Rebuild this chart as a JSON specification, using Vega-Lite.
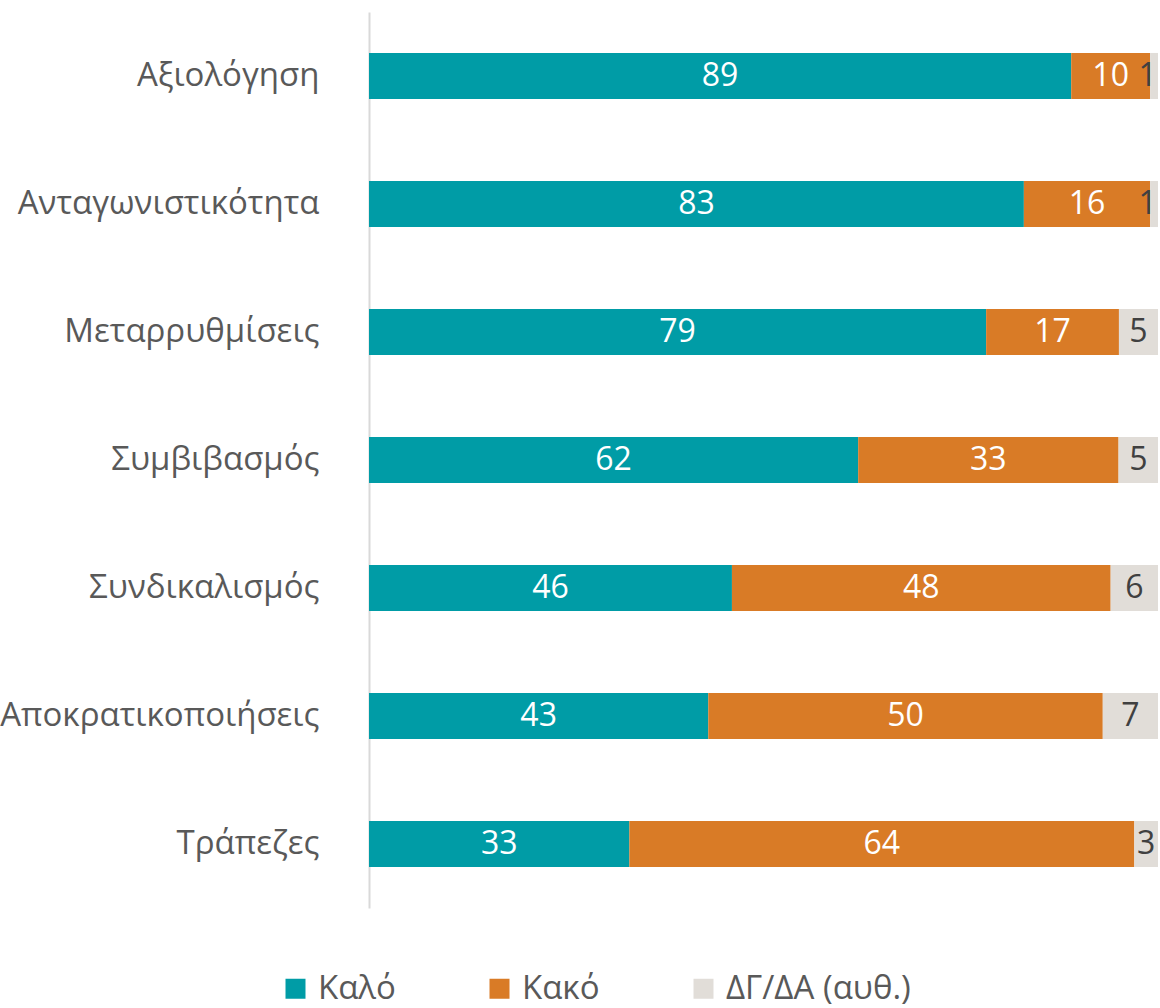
{
  "$schema": "https://vega.github.io/schema/vega-lite/v6.json",
  "width": 789,
  "height": 896,
  "autosize": {"type": "none"},
  "padding": {"left": 369, "top": 12, "right": 2, "bottom": 100},
  "background": "white",
  "config": {
    "view": {"stroke": null},
    "font": "Open Sans"
  },
  "data": {
    "values": [
      {"category": "Αξιολόγηση", "series": "Καλό", "value": 89},
      {"category": "Αξιολόγηση", "series": "Κακό", "value": 10},
      {"category": "Αξιολόγηση", "series": "ΔΓ/ΔΑ (αυθ.)", "value": 1},
      {"category": "Ανταγωνιστικότητα", "series": "Καλό", "value": 83},
      {"category": "Ανταγωνιστικότητα", "series": "Κακό", "value": 16},
      {"category": "Ανταγωνιστικότητα", "series": "ΔΓ/ΔΑ (αυθ.)", "value": 1},
      {"category": "Μεταρρυθμίσεις", "series": "Καλό", "value": 79},
      {"category": "Μεταρρυθμίσεις", "series": "Κακό", "value": 17},
      {"category": "Μεταρρυθμίσεις", "series": "ΔΓ/ΔΑ (αυθ.)", "value": 5},
      {"category": "Συμβιβασμός", "series": "Καλό", "value": 62},
      {"category": "Συμβιβασμός", "series": "Κακό", "value": 33},
      {"category": "Συμβιβασμός", "series": "ΔΓ/ΔΑ (αυθ.)", "value": 5},
      {"category": "Συνδικαλισμός", "series": "Καλό", "value": 46},
      {"category": "Συνδικαλισμός", "series": "Κακό", "value": 48},
      {"category": "Συνδικαλισμός", "series": "ΔΓ/ΔΑ (αυθ.)", "value": 6},
      {"category": "Αποκρατικοποιήσεις", "series": "Καλό", "value": 43},
      {"category": "Αποκρατικοποιήσεις", "series": "Κακό", "value": 50},
      {"category": "Αποκρατικοποιήσεις", "series": "ΔΓ/ΔΑ (αυθ.)", "value": 7},
      {"category": "Τράπεζες", "series": "Καλό", "value": 33},
      {"category": "Τράπεζες", "series": "Κακό", "value": 64},
      {"category": "Τράπεζες", "series": "ΔΓ/ΔΑ (αυθ.)", "value": 3}
    ]
  },
  "transform": [
    {"stack": "value", "groupby": ["category"], "sort": [{"field": "series", "order": "descending"}], "offset": "normalize", "as": ["x0", "x1"]},
    {"calculate": "min((datum.x0 + datum.x1) / 2, 0.987)", "as": "mid"}
  ],
  "encoding": {
    "y": {
      "field": "category",
      "type": "nominal",
      "sort": ["Αξιολόγηση", "Ανταγωνιστικότητα", "Μεταρρυθμίσεις", "Συμβιβασμός", "Συνδικαλισμός", "Αποκρατικοποιήσεις", "Τράπεζες"],
      "scale": {"paddingInner": 0.64, "paddingOuter": 0.32},
      "axis": {
        "title": null,
        "domain": true,
        "domainColor": "#d9d9d9",
        "domainWidth": 2,
        "ticks": false,
        "grid": false,
        "labelFontSize": 33,
        "labelColor": "#595959",
        "labelPadding": 50,
        "labelLimit": 500,
        "labelFont": "Open Sans"
      }
    }
  },
  "layer": [
    {
      "mark": {"type": "bar"},
      "encoding": {
        "x": {"field": "x0", "type": "quantitative", "scale": {"domain": [0, 1]}, "axis": null},
        "x2": {"field": "x1"},
        "color": {
          "field": "series",
          "type": "nominal",
          "scale": {"domain": ["Καλό", "Κακό", "ΔΓ/ΔΑ (αυθ.)"], "range": ["#009CA6", "#D97B26", "#E1DDD8"]},
          "legend": {
            "title": null,
            "orient": "none",
            "direction": "horizontal",
            "legendX": -90,
            "legendY": 960,
            "padding": 0,
            "symbolType": "square",
            "symbolSize": 400,
            "symbolStrokeWidth": 0,
            "labelFontSize": 33,
            "labelColor": "#595959",
            "labelFont": "Open Sans",
            "labelOffset": 6,
            "columnPadding": 87,
            "labelLimit": 400
          }
        }
      }
    },
    {
      "mark": {"type": "text", "fontSize": 32, "align": "center", "baseline": "middle", "font": "Open Sans"},
      "encoding": {
        "x": {"field": "mid", "type": "quantitative"},
        "text": {"field": "value", "type": "quantitative"},
        "color": {
          "condition": {"test": "datum.series === 'ΔΓ/ΔΑ (αυθ.)'", "value": "#404040"},
          "value": "#ffffff"
        }
      }
    }
  ]
}
